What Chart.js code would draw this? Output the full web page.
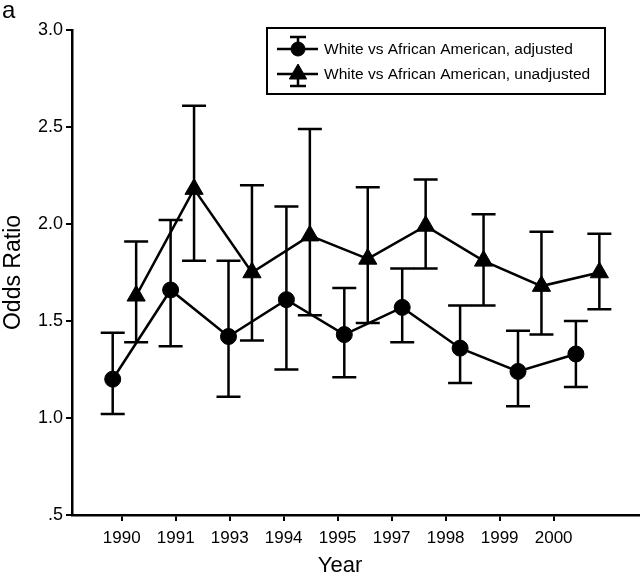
<!DOCTYPE html>
<html>
<head>
<meta charset="utf-8">
<script src="https://cdn.jsdelivr.net/npm/chart.js@4/dist/chart.umd.min.js"></script>
<style>
  html, body { margin: 0; padding: 0; background: #fff; }
</style>
</head>
<body>
<canvas id="chart" width="640" height="576"></canvas>
<script>
// values
var years = ['1990', '1991', '1993', '1994', '1995', '1997', '1998', '1999', '2000'];

var adjusted     = [1.20, 1.66, 1.42, 1.61, 1.43, 1.57, 1.36, 1.24, 1.33];
var adjustedLow  = [1.02, 1.37, 1.11, 1.25, 1.21, 1.39, 1.18, 1.06, 1.16];
var adjustedHigh = [1.44, 2.02, 1.81, 2.09, 1.67, 1.77, 1.58, 1.45, 1.50];

var unadjusted     = [1.63, 2.18, 1.75, 1.94, 1.82, 1.99, 1.81, 1.68, 1.75];
var unadjustedLow  = [1.39, 1.81, 1.40, 1.53, 1.49, 1.77, 1.58, 1.43, 1.56];
var unadjustedHigh = [1.91, 2.61, 2.20, 2.49, 2.19, 2.23, 2.05, 1.96, 1.95];

var seriesNames = ['White vs African American, adjusted', 'White vs African American, unadjusted'];
var yTicks = [0.5, 1.0, 1.5, 2.0, 2.5, 3.0];

var FONT = '"Liberation Sans", Arial, Helvetica, sans-serif';

function points(values, shift) {
    return values.map(function (v, i) {
        return { x: i + shift, y: v };
    });
}

var errorBars = {
    id: 'errorBars',
    beforeDatasetsDraw: function (chart) {
        var ctx = chart.ctx;
        var yScale = chart.scales.y;
        chart.data.datasets.forEach(function (ds, di) {
            var meta = chart.getDatasetMeta(di);
            ctx.save();
            ctx.strokeStyle = '#000';
            ctx.lineWidth = 2.5;
            meta.data.forEach(function (pt, i) {
                var x = pt.x;
                var top = yScale.getPixelForValue(ds.high[i]);
                var bot = yScale.getPixelForValue(ds.low[i]);
                ctx.beginPath();
                ctx.moveTo(x, top);
                ctx.lineTo(x, bot);
                ctx.moveTo(x - 12, top);
                ctx.lineTo(x + 12, top);
                ctx.moveTo(x - 12, bot);
                ctx.lineTo(x + 12, bot);
                ctx.stroke();
            });
            ctx.restore();
        });
    }
};

var extras = {
    id: 'extras',
    afterDraw: function (chart) {
        var ctx = chart.ctx;
        ctx.save();
        ctx.fillStyle = '#000';
        ctx.strokeStyle = '#000';

        // panel letter
        ctx.font = '24px ' + FONT;
        ctx.textAlign = 'left';
        ctx.textBaseline = 'alphabetic';
        ctx.fillText('a', 2, 18);

        // x axis title
        ctx.font = '22px ' + FONT;
        ctx.textAlign = 'center';
        ctx.textBaseline = 'middle';
        ctx.fillText('Year', 340, 566);

        // legend box
        ctx.lineWidth = 2;
        ctx.strokeRect(267, 28, 338, 66);
        ctx.font = '15.5px ' + FONT;
        ctx.textAlign = 'left';
        chart.data.datasets.forEach(function (ds, i) {
            var cy = 49 + i * 25;
            var cx = 298;
            ctx.lineWidth = 2.5;
            ctx.beginPath();
            ctx.moveTo(277, cy);
            ctx.lineTo(318, cy);
            var capY = i === 0 ? cy - 12 : cy + 12;
            ctx.moveTo(cx, cy);
            ctx.lineTo(cx, capY);
            ctx.moveTo(cx - 8, capY);
            ctx.lineTo(cx + 8, capY);
            ctx.stroke();
            ctx.lineWidth = 1;
            Chart.helpers.drawPoint(ctx, {
                pointStyle: ds.pointStyle,
                radius: i === 0 ? 7 : 10,
                rotation: 0,
                borderWidth: 1
            }, cx, cy);
            ctx.fillStyle = '#000';
            ctx.fillText(ds.label, 324, cy + 1);
        });
        ctx.restore();
    }
};

new Chart(document.getElementById('chart'), {
    type: 'line',
    data: {
        datasets: [{
            label: seriesNames[0],
            data: points(adjusted, 0),
            low: adjustedLow,
            high: adjustedHigh,
            xAxisID: 'x2',
            borderColor: '#000',
            backgroundColor: '#000',
            borderWidth: 2.5,
            pointStyle: 'circle',
            pointRadius: 8,
            pointBorderWidth: 1,
            tension: 0
        }, {
            label: seriesNames[1],
            data: points(unadjusted, 0.405),
            low: unadjustedLow,
            high: unadjustedHigh,
            xAxisID: 'x2',
            borderColor: '#000',
            backgroundColor: '#000',
            borderWidth: 2.5,
            pointStyle: 'triangle',
            pointRadius: 10.5,
            pointBorderWidth: 1,
            tension: 0
        }]
    },
    options: {
        responsive: false,
        animation: false,
        events: [],
        layout: { autoPadding: false, padding: { top: 30, right: 0, left: 0, bottom: 0 } },
        plugins: {
            legend: { display: false },
            tooltip: { enabled: false }
        },
        scales: {
            x2: {
                type: 'linear',
                display: false,
                min: -0.703,
                max: 9.107
            },
            x: {
                type: 'linear',
                position: 'bottom',
                min: -0.92,
                max: 9.599,
                border: { display: true, color: '#000', width: 2.5 },
                grid: { drawOnChartArea: false, drawTicks: true, tickLength: 6, color: '#000', lineWidth: 2 },
                ticks: {
                    color: '#000',
                    font: { family: FONT, size: 17 },
                    padding: 7,
                    maxRotation: 0,
                    autoSkip: false,
                    callback: function (v) { return years[v]; }
                },
                afterBuildTicks: function (scale) {
                    scale.ticks = years.map(function (y, i) { return { value: i }; });
                },
                afterFit: function (scale) {
                    scale.height = 61;
                    scale.paddingLeft = 0;
                    scale.paddingRight = 0;
                }
            },
            y: {
                min: 0.5,
                max: 3.0,
                border: { display: true, color: '#000', width: 2.5 },
                grid: { drawOnChartArea: false, drawTicks: true, tickLength: 6, color: '#000', lineWidth: 2 },
                title: {
                    display: true,
                    text: 'Odds Ratio',
                    color: '#000',
                    font: { family: FONT, size: 23 },
                    padding: 0
                },
                ticks: {
                    color: '#000',
                    font: { family: FONT, size: 18 },
                    padding: 3,
                    callback: function (v) { return v === 0.5 ? '.5' : v.toFixed(1); }
                },
                afterBuildTicks: function (scale) {
                    scale.ticks = yTicks.map(function (v) { return { value: v }; });
                },
                afterFit: function (scale) {
                    scale.width = 72;
                    scale.paddingTop = 0;
                    scale.paddingBottom = 0;
                }
            }
        }
    },
    plugins: [errorBars, extras]
});
</script>
</body>
</html>
